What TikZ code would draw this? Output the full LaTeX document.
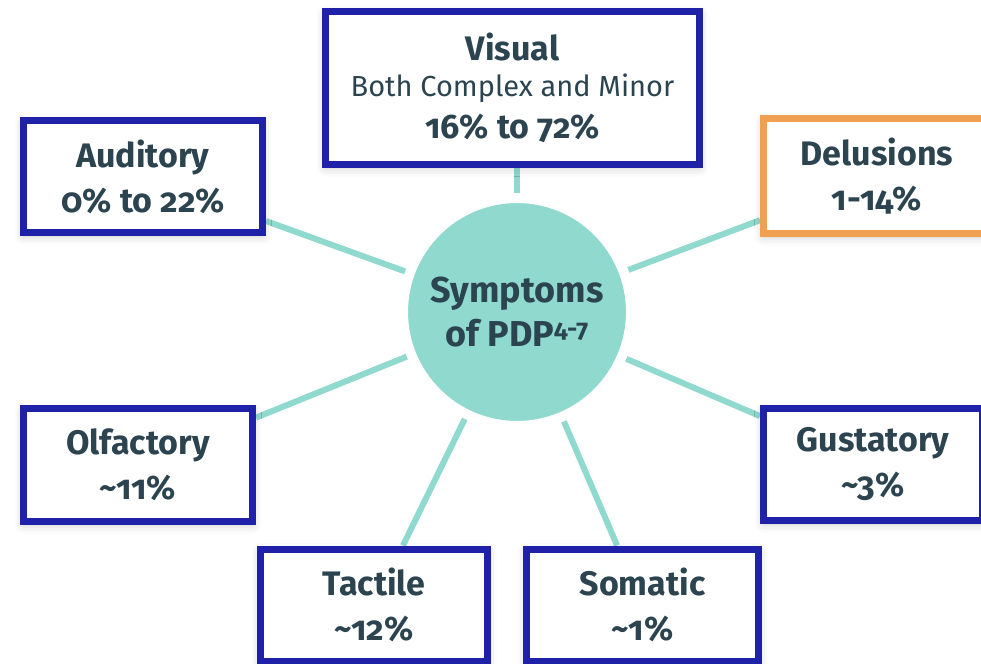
\documentclass[tikz,border=0pt]{standalone}
\usepackage{fontspec}
\setmainfont{Fira Sans}[Numbers=OldStyle, RawFeature=+onum]
\usetikzlibrary{shadows.blur, backgrounds}
\definecolor{navy}{HTML}{1F22A8}
\definecolor{peach}{HTML}{F0A050}
\definecolor{mint}{HTML}{8FD9CE}
\definecolor{slate}{HTML}{2B4450}
\tikzset{symbox/.style={draw=navy, line width=7pt, fill=white, align=center, text=slate, inner sep=0pt,
  font=\fontsize{34}{45}\selectfont\bfseries,
  blur shadow={shadow xshift=0pt, shadow yshift=-3pt, shadow opacity=22, shadow blur radius=9pt}}}
\tikzset{hub/.style={circle, fill=mint, draw=white, line width=2pt, align=center, text=slate, inner sep=0pt,
  font=\fontsize{36}{44}\selectfont\bfseries}}
\tikzset{link/.style={mint, line width=6pt, shorten <=8pt}}
\newcommand{\sublabel}[1]{{\fontsize{29}{38}\selectfont\mdseries #1}}

\begin{document}
\begin{tikzpicture}[x=1pt, y=-1pt]
		\useasboundingbox (0,0) rectangle (981,663);

		% Centre
		\node[hub, minimum size=220pt] (pdp) at (517,312) {\raisebox{-6pt}{\parbox{200pt}{\centering Symptoms\\of PDP\textsuperscript{4-7}}}};

		% Boxes
		\node[symbox, minimum width=374pt, minimum height=153pt] (vis) at (512.5,88)
			{Visual\\[-9pt]\sublabel{Both Complex and Minor}\\[-3pt]16\% to 72\%};
		\node[symbox, minimum width=239pt, minimum height=112pt] (aud) at (143,176.5) {Auditory\\0\% to 22\%};
		\node[symbox, draw=peach, minimum width=227pt, minimum height=115pt] (del) at (877,176) {Delusions\\1-14\%};
		\node[symbox, minimum width=229pt, minimum height=113pt] (olf) at (138,465) {Olfactory\\\textasciitilde 11\%};
		\node[symbox, minimum width=219pt, minimum height=112pt] (gus) at (873,464.5) {Gustatory\\\textasciitilde 3\%};
		\node[symbox, minimum width=227pt, minimum height=112pt] (tac) at (374,605) {Tactile\\\textasciitilde 12\%};
		\node[symbox, minimum width=232pt, minimum height=112pt] (som) at (642.5,605) {Somatic\\\textasciitilde 1\%};

		% Links
		\begin{scope}[on background layer]
			\draw[link] (pdp.north) -- (pdp.north |- vis.south);
			\draw[link] (pdp) -- (aud);
			\draw[link] (pdp) -- (del);
			\draw[link] (pdp) -- (olf);
			\draw[link] (pdp) -- (gus);
			\draw[link] (pdp) -- (tac);
			\draw[link] (pdp) -- (som);
		\end{scope}
	\end{tikzpicture}
\end{document}
